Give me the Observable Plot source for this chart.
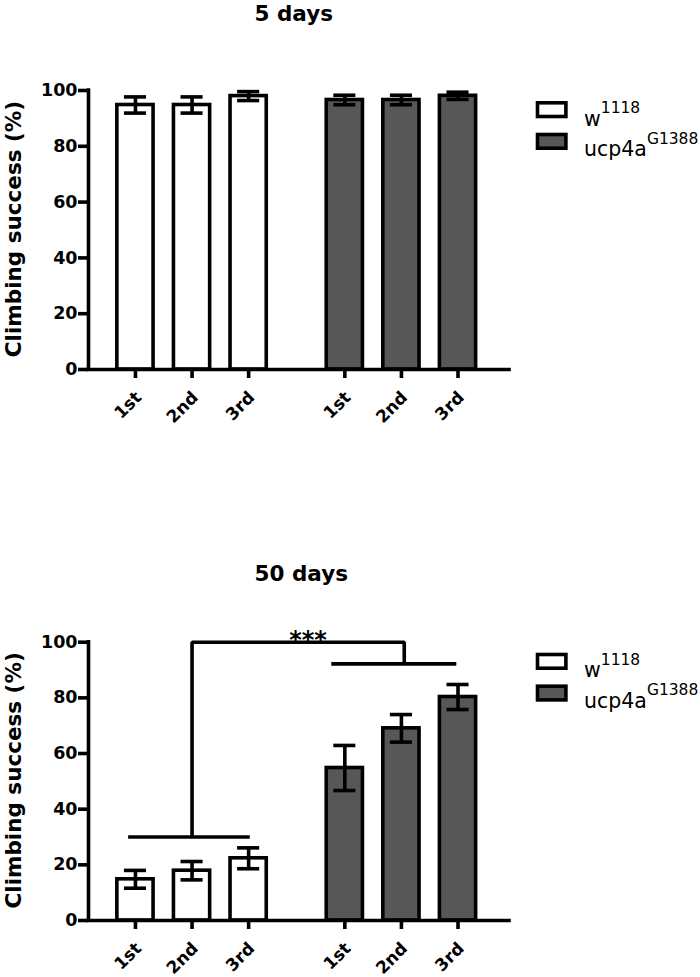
<!DOCTYPE html>
<html>
<head>
<meta charset="utf-8">
<script src="https://cdn.jsdelivr.net/npm/d3@7"></script>
<script src="https://cdn.jsdelivr.net/npm/@observablehq/plot@0.6"></script>
<style>
  html, body { margin: 0; padding: 0; background: #fff; }
  #charts svg { display: block; }
</style>
</head>
<body>
<div id="charts"></div>
<script>
// Climbing assay: three consecutive trials per genotype, mean ± SEM (%)
const trials = ["1st", "2nd", "3rd"];
const genotypeBase = ["w", "ucp4a"];
const genotypeSup = ["1118", "G1388"];
const genotypeFill = ["#ffffff", "#575757"];
const yTicks = [0, 20, 40, 60, 80, 100];

// 5 days
const day5W = [94.8, 94.8, 98.0];
const day5WErr = [2.9, 2.9, 1.6];
const day5U = [96.6, 96.6, 98.1];
const day5UErr = [1.7, 1.7, 1.3];

// 50 days
const day50W = [14.8, 17.9, 22.35];
const day50WErr = [3.2, 3.3, 3.75];
const day50U = [54.8, 69.05, 80.3];
const day50UErr = [8.1, 4.95, 4.5];

// significance bracket for 50 days (x in trial slots, y in %)
const bracketLow = { x1: -0.13, x2: 2.02, y: 30, stem: 1.0 };
const bracketHigh = { x1: 3.46, x2: 5.67, y: 92.2, stem: 4.75 };
const bracketTop = 100;
const bracketLabel = "***";

const groupStep = 3.7;       // slot offset of the second genotype
const xDomain = [-0.83, 6.61];
const barHalf = 0.32;
const capHalf = 0.195;
const LW = 3.6;

function rowsFor(wM, wE, uM, uE) {
  return [[wM, wE], [uM, uE]].flatMap(([m, e], g) =>
    trials.map((t, i) => ({ g, trial: t, x: g * groupStep + i, mean: m[i], err: e[i] })));
}

function addLegend(svg, top) {
  const g = d3.select(svg).append("g")
    .attr("font-family", "DejaVu Sans").attr("font-weight", "normal").attr("text-anchor", "start");
  genotypeBase.forEach((name, k) => {
    const oy = top + 11 + k * 31.7;
    g.append("rect")
      .attr("x", 537.5).attr("y", oy + 1.8)
      .attr("width", 28.4).attr("height", 13.7)
      .attr("fill", genotypeFill[k]).attr("stroke", "black").attr("stroke-width", LW);
    const t = g.append("text").attr("x", 584).attr("y", top + 35.5 + k * 30.5)
      .attr("font-size", 20.5).attr("fill", "black");
    t.append("tspan").text(name);
    t.append("tspan").attr("dy", -12.4).attr("font-size", 15.5).text(genotypeSup[k]);
  });
}

function chart({ title, titleDy, rows, height, marginTop, marginBottom, bracket }) {
  const marks = [
    Plot.rectY(rows, {
      x1: d => d.x - barHalf, x2: d => d.x + barHalf, y1: 0, y2: "mean",
      fill: d => genotypeFill[d.g], stroke: "black", strokeWidth: LW
    }),
    Plot.ruleX(rows, { x: "x", y1: d => d.mean - d.err, y2: d => d.mean + d.err, strokeWidth: LW }),
    Plot.ruleY(rows, { y: d => d.mean + d.err, x1: d => d.x - capHalf, x2: d => d.x + capHalf, strokeWidth: LW }),
    Plot.ruleY(rows, { y: d => d.mean - d.err, x1: d => d.x - capHalf, x2: d => d.x + capHalf, strokeWidth: LW }),
    Plot.ruleY([0], { strokeWidth: LW, strokeLinecap: "square" }),
    Plot.ruleX([xDomain[0]], { y1: 0, y2: 100, strokeWidth: LW, strokeLinecap: "square" }),
    Plot.axisY({ ticks: yTicks, tickSize: 10, tickPadding: 1, strokeWidth: LW, fontSize: 17.5, label: null }),
    Plot.axisX({ ticks: rows.map(d => d.x), tickSize: 9, strokeWidth: LW, tickFormat: () => "", label: null }),
    Plot.text(rows, {
      x: "x", y: 0, text: "trial", rotate: -45, textAnchor: "end", lineAnchor: "bottom",
      dx: 7, dy: 29, fontSize: 17
    }),
    Plot.text(["Climbing success (%)"], {
      frameAnchor: "left", rotate: -90, textAnchor: "middle", lineAnchor: "bottom",
      dx: -68, dy: -1, fontSize: 21.5
    }),
    Plot.text([title], {
      frameAnchor: "top-left", textAnchor: "start", lineAnchor: "bottom",
      dx: 166, dy: titleDy, fontSize: 21.5
    })
  ];
  if (bracket) {
    const path = [
      { s: 0, x: bracketLow.x1, y: bracketLow.y }, { s: 0, x: bracketLow.x2, y: bracketLow.y },
      { s: 1, x: bracketLow.stem, y: bracketLow.y }, { s: 1, x: bracketLow.stem, y: bracketTop },
      { s: 1, x: bracketHigh.stem, y: bracketTop }, { s: 1, x: bracketHigh.stem, y: bracketHigh.y },
      { s: 2, x: bracketHigh.x1, y: bracketHigh.y }, { s: 2, x: bracketHigh.x2, y: bracketHigh.y }
    ];
    marks.push(
      Plot.line(path, { x: "x", y: "y", z: "s", strokeWidth: LW, strokeLinejoin: "miter", strokeLinecap: "butt" }),
      Plot.text([bracketLabel], {
        x: 3.05, y: bracketTop, lineAnchor: "bottom", dy: 5.6, fontSize: 24
      })
    );
  }
  const svg = Plot.plot({
    width: 700, height, marginLeft: 88, marginRight: 191, marginTop, marginBottom,
    x: { type: "linear", domain: xDomain, axis: null },
    y: { domain: [0, 100], axis: null },
    style: { fontFamily: "DejaVu Sans", fontWeight: "bold", background: "white", color: "black", overflow: "visible" },
    marks
  });
  addLegend(svg, marginTop);
  return svg;
}

const root = document.getElementById("charts");
root.append(chart({
  title: "5 days", titleDy: -69.3,
  rows: rowsFor(day5W, day5WErr, day5U, day5UErr),
  height: 488, marginTop: 90, marginBottom: 119
}));
root.append(chart({
  title: "50 days", titleDy: -61.3,
  rows: rowsFor(day50W, day50WErr, day50U, day50UErr),
  height: 489, marginTop: 153.7, marginBottom: 57, bracket: true
}));
</script>
</body>
</html>
